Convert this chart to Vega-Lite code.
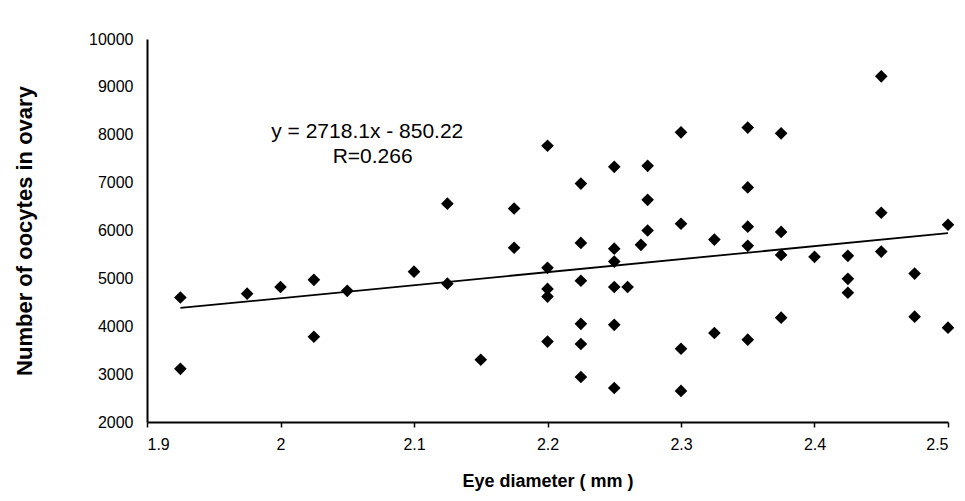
{
  "$schema": "https://vega.github.io/schema/vega-lite/v6.json",
  "autosize": "none",
  "width": 801,
  "height": 383,
  "padding": {"left": 147, "top": 39, "right": 17, "bottom": 79},
  "background": "white",
  "config": {
    "view": {"stroke": null},
    "font": "Liberation Sans",
    "axis": {"grid": false, "domainColor": "black", "tickColor": "black", "labelColor": "black", "titleColor": "black", "labelFont": "Liberation Sans", "titleFont": "Liberation Sans", "domainWidth": 2}
  },
  "datasets": {
    "points": [
      {"eye": 1.925, "oocytes": 4600}, {"eye": 1.925, "oocytes": 3110},
      {"eye": 1.975, "oocytes": 4680},
      {"eye": 2.0, "oocytes": 4820},
      {"eye": 2.025, "oocytes": 4970}, {"eye": 2.025, "oocytes": 3780},
      {"eye": 2.05, "oocytes": 4740},
      {"eye": 2.1, "oocytes": 5140},
      {"eye": 2.125, "oocytes": 6560}, {"eye": 2.125, "oocytes": 4890},
      {"eye": 2.15, "oocytes": 3300},
      {"eye": 2.175, "oocytes": 6460}, {"eye": 2.175, "oocytes": 5640},
      {"eye": 2.2, "oocytes": 7770}, {"eye": 2.2, "oocytes": 5220}, {"eye": 2.2, "oocytes": 4780}, {"eye": 2.2, "oocytes": 4620}, {"eye": 2.2, "oocytes": 3680},
      {"eye": 2.225, "oocytes": 6980}, {"eye": 2.225, "oocytes": 5740}, {"eye": 2.225, "oocytes": 4950}, {"eye": 2.225, "oocytes": 4050}, {"eye": 2.225, "oocytes": 3630}, {"eye": 2.225, "oocytes": 2940},
      {"eye": 2.25, "oocytes": 7330}, {"eye": 2.25, "oocytes": 5620}, {"eye": 2.25, "oocytes": 5350}, {"eye": 2.25, "oocytes": 4820}, {"eye": 2.25, "oocytes": 4030}, {"eye": 2.25, "oocytes": 2710},
      {"eye": 2.26, "oocytes": 4820},
      {"eye": 2.27, "oocytes": 5700},
      {"eye": 2.275, "oocytes": 7350}, {"eye": 2.275, "oocytes": 6640}, {"eye": 2.275, "oocytes": 6000},
      {"eye": 2.3, "oocytes": 8050}, {"eye": 2.3, "oocytes": 6140}, {"eye": 2.3, "oocytes": 3530}, {"eye": 2.3, "oocytes": 2650},
      {"eye": 2.325, "oocytes": 5810}, {"eye": 2.325, "oocytes": 3860},
      {"eye": 2.35, "oocytes": 8150}, {"eye": 2.35, "oocytes": 6900}, {"eye": 2.35, "oocytes": 6080}, {"eye": 2.35, "oocytes": 5680}, {"eye": 2.35, "oocytes": 3720},
      {"eye": 2.375, "oocytes": 8030}, {"eye": 2.375, "oocytes": 5970}, {"eye": 2.375, "oocytes": 5490}, {"eye": 2.375, "oocytes": 4180},
      {"eye": 2.4, "oocytes": 5450},
      {"eye": 2.425, "oocytes": 5470}, {"eye": 2.425, "oocytes": 4990}, {"eye": 2.425, "oocytes": 4700},
      {"eye": 2.45, "oocytes": 9220}, {"eye": 2.45, "oocytes": 6370}, {"eye": 2.45, "oocytes": 5560},
      {"eye": 2.475, "oocytes": 5100}, {"eye": 2.475, "oocytes": 4200},
      {"eye": 2.5, "oocytes": 6120}, {"eye": 2.5, "oocytes": 3970}
    ],
    "trend": [
      {"eye": 1.925, "oocytes": 4382},
      {"eye": 2.5, "oocytes": 5945}
    ],
    "labels": [
      {"eye": 2.065, "oocytes": 8060, "label": "y = 2718.1x - 850.22"},
      {"eye": 2.069, "oocytes": 7530, "label": "R=0.266"}
    ]
  },
  "layer": [
    {
      "data": {"name": "trend"},
      "mark": {"type": "line", "color": "black", "strokeWidth": 1.8},
      "encoding": {
        "x": {"field": "eye", "type": "quantitative", "scale": {"domain": [1.9, 2.5], "nice": false, "zero": false},
          "axis": {"values": [1.9, 2.0, 2.1, 2.2, 2.3, 2.4, 2.5], "format": ".1~f", "title": "Eye diameter ( mm )", "titleFontSize": 18, "titleFontWeight": "bold", "titlePadding": 20, "labelFontSize": 16, "tickSize": 5, "tickWidth": 1.5, "labelPadding": 9}},
        "y": {"field": "oocytes", "type": "quantitative", "scale": {"domain": [2000, 10000], "nice": false, "zero": false},
          "axis": {"values": [2000, 3000, 4000, 5000, 6000, 7000, 8000, 9000, 10000], "format": "d", "title": "Number of oocytes in ovary", "titleFontSize": 22, "titleFontWeight": "bold", "titlePadding": 52, "labelFontSize": 16, "ticks": false, "labelPadding": 14}}
      }
    },
    {
      "data": {"name": "points"},
      "mark": {"type": "point", "shape": "diamond", "filled": true, "color": "black", "size": 160, "opacity": 1},
      "encoding": {
        "x": {"field": "eye", "type": "quantitative"},
        "y": {"field": "oocytes", "type": "quantitative"}
      }
    },
    {
      "data": {"name": "labels"},
      "mark": {"type": "text", "fontSize": 21, "color": "black", "align": "center", "baseline": "middle", "font": "Liberation Sans"},
      "encoding": {
        "x": {"field": "eye", "type": "quantitative"},
        "y": {"field": "oocytes", "type": "quantitative"},
        "text": {"field": "label"}
      }
    }
  ]
}
